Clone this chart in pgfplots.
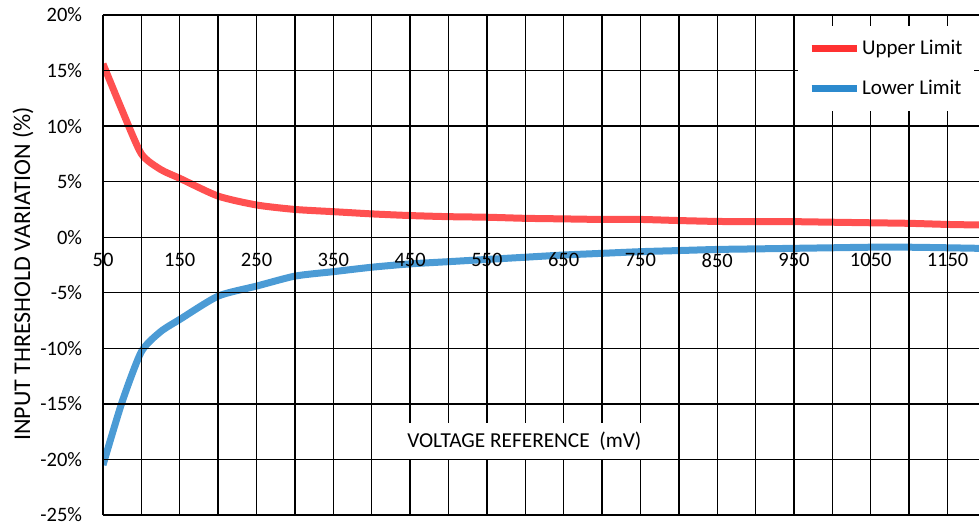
\documentclass[border=0pt]{standalone}
\usepackage{pgfplots}
\pgfplotsset{compat=1.18}
\usepackage{fontspec}
\setmainfont{Carlito}
\definecolor{upr}{RGB}{255,49,49}
\definecolor{lwr}{RGB}{44,138,206}
\begin{document}
\fontsize{20}{24}\selectfont
\begin{tikzpicture}
\begin{axis}[
 scale only axis, width=876pt, height=500pt,
 xmin=50, xmax=1191, ymin=-25, ymax=20,
 axis on top,
 axis x line*=middle, axis y line*=left,
 hide obscured x ticks=false, hide obscured y ticks=false,
 y axis line style={line width=2.6pt},
 x axis line style={line width=1.4pt},
 xtick={50,150,...,1150},
 minor xtick={100,200,...,1100},
 ytick={-25,-20,...,20},
 yticklabels={-25\%,-20\%,-15\%,-10\%,-5\%,0\%,5\%,10\%,15\%,20\%},
 extra y ticks={-25,20}, extra y tick labels={},
 extra y tick style={grid style={black, line width=2pt}},
 grid=both,
 major grid style={black, line width=1.4pt},
 minor grid style={black, line width=1.4pt},
 major tick length=0pt, minor tick length=0pt,
 /pgf/number format/assume math mode=true,
 /pgf/number format/1000 sep={},
 tick label style={font=\fontsize{20.5}{24}\selectfont},
 x tick label style={yshift=-9pt},
 y tick label style={xshift=-14pt},
 ylabel={INPUT THRESHOLD VARIATION (\%)},
 ylabel style={at={(axis description cs:-0.0913,0.482)}, anchor=center, rotate=0, font=\fontsize{24}{28}\selectfont},
 xlabel={VOLTAGE REFERENCE~~(mV)},
 xlabel style={at={(axis description cs:0.481,0.148)}, anchor=center, fill=white, minimum width=255pt, minimum height=36pt, inner sep=0pt, font=\fontsize{21.3}{24}\selectfont},
 legend style={at={(0.995,0.978)}, anchor=north east, draw=none, fill=white,
   font=\fontsize{21}{24}\selectfont, inner xsep=10pt, inner ysep=12pt, row sep=18pt,
   legend cell align=left},
 legend image code/.code={\draw[#1, line width=7pt, opacity=1] (0pt,0pt) -- (45pt,0pt);},
 clip=true,
]
\addplot[upr, opacity=0.85, line width=7pt, smooth, tension=0.4] coordinates {
(50,15.6) (75,11.4) (100,7.5) (125,6.1) (150,5.3) (200,3.7) (250,2.9) (300,2.5)
(350,2.3) (400,2.1) (450,1.95) (500,1.85) (550,1.8) (600,1.7) (650,1.65) (700,1.6)
(750,1.6) (800,1.5) (850,1.42) (900,1.4) (950,1.4) (1000,1.35) (1050,1.3)
(1100,1.25) (1150,1.15) (1191,1.1)};
\addlegendentry{Upper Limit}
\addplot[lwr, opacity=0.85, line width=7pt, smooth, tension=0.4] coordinates {
(50,-20.5) (75,-14.8) (100,-10.3) (125,-8.5) (150,-7.4) (200,-5.3) (250,-4.4)
(300,-3.5) (350,-3.1) (400,-2.7) (450,-2.4) (500,-2.2) (550,-2.0) (600,-1.8)
(650,-1.6) (700,-1.45) (750,-1.3) (800,-1.2) (850,-1.1) (900,-1.05) (950,-1.0)
(1000,-0.95) (1050,-0.9) (1100,-0.9) (1150,-0.95) (1191,-1.0)};
\addlegendentry{Lower Limit}
\end{axis}
\pgfresetboundingbox
\path[use as bounding box] ([shift={(-103pt,-12pt)}]current axis.south west) rectangle ([shift={(0pt,15pt)}]current axis.north east);
\end{tikzpicture}
\end{document}
